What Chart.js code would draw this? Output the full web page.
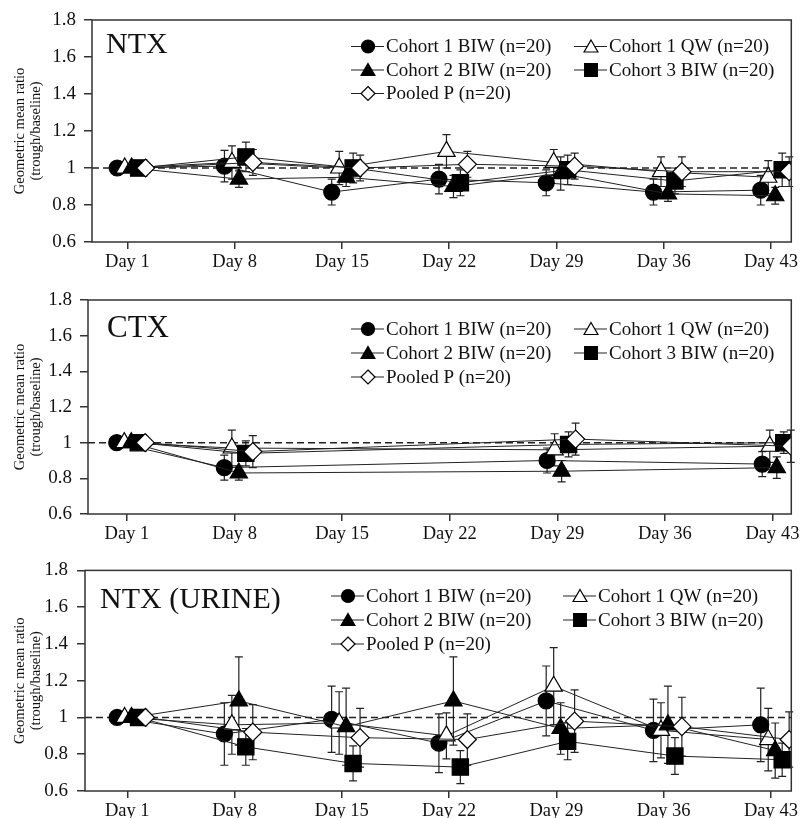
<!DOCTYPE html>
<html><head><meta charset="utf-8">
<script src="https://cdn.jsdelivr.net/npm/chart.js@4/dist/chart.umd.min.js"></script>
<style>
html,body{margin:0;padding:0;background:#fff;width:804px;height:818px;overflow:hidden;}
.p{position:absolute;left:0;width:804px;}
</style></head><body>
<div class="p" style="top:0;height:275px"><canvas id="c1"></canvas></div>
<div class="p" style="top:280px;height:270px"><canvas id="c2"></canvas></div>
<div class="p" style="top:550px;height:268px"><canvas id="c3"></canvas></div>
<script>
// ---------- data ----------
const days = ['Day 1','Day 8','Day 15','Day 22','Day 29','Day 36','Day 43'];
const seriesNames = ['Cohort 1 BIW (n=20)','Cohort 1 QW (n=20)','Cohort 2 BIW (n=20)','Cohort 3 BIW (n=20)','Pooled P (n=20)'];
const yTickValues = [0.6,0.8,1.0,1.2,1.4,1.6,1.8];
const yTickLabels = ['0.6','0.8','1','1.2','1.4','1.6','1.8'];
const panelTitles = ['NTX','CTX','NTX (URINE)'];
const yTitle = ['Geometric mean ratio','(trough/baseline)'];

// NTX (serum)
const ntxC1BIW    = [1.00, 1.01, 0.87, 0.94, 0.92, 0.87, 0.88];
const ntxC1BIWErr = [0, 0.085, 0.07, 0.08, 0.07, 0.07, 0.08];
const ntxC1QW     = [1.00, 1.03, 1.00, 1.09, 1.03, 0.98, 0.95];
const ntxC1QWErr  = [0, 0.09, 0.09, 0.09, 0.07, 0.08, 0.09];
const ntxC2BIW    = [1.00, 0.94, 0.95, 0.90, 0.97, 0.86, 0.85];
const ntxC2BIWErr = [0, 0.045, 0.05, 0.06, 0.09, 0.04, 0.045];
const ntxC3BIW    = [1.00, 1.06, 1.00, 0.92, 0.99, 0.93, 0.99];
const ntxC3BIWErr = [0, 0.08, 0.08, 0.07, 0.08, 0.07, 0.09];
const ntxPooled   = [1.00, 1.03, 1.00, 1.02, 1.01, 0.98, 0.98];
const ntxPooledErr= [0, 0.07, 0.07, 0.07, 0.07, 0.08, 0.08];

// CTX
const ctxC1BIW    = [1.00, 0.86, null, null, 0.90, null, 0.88];
const ctxC1BIWErr = [0, 0.07, null, null, 0.07, null, 0.07];
const ctxC1QW     = [1.00, 0.97, null, null, 0.96, null, 0.98];
const ctxC1QWErr  = [0, 0.10, null, null, 0.09, null, 0.09];
const ctxC2BIW    = [1.00, 0.83, null, null, 0.84, null, 0.86];
const ctxC2BIWErr = [0, 0.04, null, null, 0.06, null, 0.06];
const ctxC3BIW    = [1.00, 0.94, null, null, 0.99, null, 1.00];
const ctxC3BIWErr = [0, 0.07, null, null, 0.07, null, 0.06];
const ctxPooled   = [1.00, 0.95, null, null, 1.02, null, 0.98];
const ctxPooledErr= [0, 0.09, null, null, 0.09, null, 0.09];

// NTX (urine)
const urC1BIW     = [1.00, 0.91, 0.99, 0.86, 1.09, 0.93, 0.96];
const urC1BIWErr  = [0, 0.17, 0.18, 0.16, 0.19, 0.17, 0.20];
const urC1QW      = [1.00, 0.96, 0.97, 0.90, 1.17, 0.93, 0.88];
const urC1QWErr   = [0, 0.16, 0.17, 0.125, 0.21, 0.15, 0.17];
const urC2BIW     = [1.00, 1.09, 0.95, 1.09, 0.94, 0.96, 0.82];
const urC2BIWErr  = [0, 0.24, 0.21, 0.24, 0.14, 0.21, 0.15];
const urC3BIW     = [1.00, 0.84, 0.75, 0.73, 0.87, 0.79, 0.77];
const urC3BIWErr  = [0, 0.10, 0.095, 0.09, 0.10, 0.10, 0.09];
const urPooled    = [1.00, 0.92, 0.89, 0.88, 0.98, 0.95, 0.88];
const urPooledErr = [0, 0.15, 0.16, 0.14, 0.17, 0.16, 0.15];

// ---------- styles ----------
const FONT = "'Liberation Serif','Times New Roman',serif";
const INK = '#222';
const xOffsets = [-0.095, -0.025, 0.04, 0.105, 0.17];
const markers = [
  {type:'circle',  r:8,    fill:'#000', lr:6.5},
  {type:'triangle',r:10,   fill:'#fff', lr:8},
  {type:'triangle',r:10,   fill:'#000', lr:8},
  {type:'rect',    r:11.5, fill:'#000', lr:9},
  {type:'rectRot', r:9,    fill:'#fff', lr:7}
];

function drawMarker(ctx, type, x, y, r, fill){
  ctx.beginPath();
  if(type==='circle'){ ctx.arc(x,y,r,0,Math.PI*2); }
  else if(type==='triangle'){ ctx.moveTo(x,y-r); ctx.lineTo(x+r*0.866,y+r/2); ctx.lineTo(x-r*0.866,y+r/2); ctx.closePath(); }
  else if(type==='rect'){ const s=r*Math.SQRT1_2; ctx.rect(x-s,y-s,2*s,2*s); }
  else { ctx.moveTo(x,y-r); ctx.lineTo(x+r,y); ctx.lineTo(x,y+r); ctx.lineTo(x-r,y); ctx.closePath(); }
  ctx.fillStyle = fill; ctx.fill();
  ctx.strokeStyle = '#000'; ctx.lineWidth = 1.2; ctx.stroke();
}

function makePanel(id, cfg){
  const canvasH = cfg.height;
  const datasets = cfg.values.map((vals, i) => ({
    label: seriesNames[i],
    data: vals.map((v, j) => ({x: j + xOffsets[i], y: v})),
    borderColor: INK,
    borderWidth: 1,
    pointStyle: markers[i].type,
    pointRadius: markers[i].r,
    pointHoverRadius: markers[i].r,
    pointBackgroundColor: markers[i].fill,
    pointBorderColor: '#000',
    pointBorderWidth: 1.2,
    spanGaps: true,
    order: 4 - i,
    tension: 0
  }));

  const deco = {
    id: 'deco' + id,
    beforeDatasetsDraw(chart){
      const ctx = chart.ctx, a = chart.chartArea;
      const xs = chart.scales.x, ys = chart.scales.y;
      ctx.save();
      ctx.beginPath();
      ctx.setLineDash([7,4]);
      ctx.strokeStyle = INK; ctx.lineWidth = 1.5;
      const y1 = ys.getPixelForValue(1);
      ctx.moveTo(a.left, y1); ctx.lineTo(a.right, y1); ctx.stroke();
      ctx.setLineDash([]);
      ctx.strokeStyle = INK; ctx.lineWidth = 1.2;
      cfg.values.forEach((vals, i) => {
        vals.forEach((v, j) => {
          const e = cfg.errors[i][j];
          if(v === null || !e) return;
          const x = xs.getPixelForValue(j + xOffsets[i]);
          const yt = ys.getPixelForValue(v + e), yb = ys.getPixelForValue(v - e);
          ctx.beginPath();
          ctx.moveTo(x, yt); ctx.lineTo(x, yb);
          ctx.moveTo(x-4, yt); ctx.lineTo(x+4, yt);
          ctx.moveTo(x-4, yb); ctx.lineTo(x+4, yb);
          ctx.stroke();
        });
      });
      ctx.restore();
    },
    afterDraw(chart){
      const ctx = chart.ctx, a = chart.chartArea;
      ctx.save();
      ctx.strokeStyle = '#333'; ctx.lineWidth = 1.5;
      ctx.strokeRect(a.left, a.top, a.right - a.left, a.bottom - a.top);
      ctx.fillStyle = '#111';
      ctx.font = cfg.titleSize + 'px ' + FONT;
      ctx.textBaseline = 'alphabetic'; ctx.textAlign = 'left';
      ctx.fillText(cfg.title, cfg.titleX, cfg.titleY);
      ctx.font = '19px ' + FONT;
      ctx.textBaseline = 'middle';
      const slots = [[0,0],[1,0],[0,1],[1,1],[0,2]];
      slots.forEach(([col,row], i) => {
        const tx = cfg.legX[col], ty = cfg.legY[row];
        ctx.beginPath(); ctx.strokeStyle = INK; ctx.lineWidth = 1;
        ctx.moveTo(tx - 35, ty); ctx.lineTo(tx - 2, ty); ctx.stroke();
        const m = markers[i];
        drawMarker(ctx, m.type, tx - 18, ty + (m.type==='triangle' ? 1.5 : 0), m.lr, m.fill);
        ctx.fillStyle = '#111';
        ctx.fillText(seriesNames[i], tx, ty + 1);
      });
      ctx.restore();
    }
  };

  return new Chart(document.getElementById(id), {
    type: 'line',
    data: { datasets },
    plugins: [deco],
    options: {
      responsive: true,
      maintainAspectRatio: false,
      animation: false,
      events: [],
      layout: { padding: { top: cfg.top, right: 804 - cfg.right, left: 0, bottom: 0 } },
      plugins: { legend: { display: false }, tooltip: { enabled: false } },
      scales: {
        x: {
          type: 'linear',
          min: cfg.xMin, max: cfg.xMax,
          afterBuildTicks(s){ s.ticks = days.map((d, i) => ({value: i})); },
          afterFit(s){ s.height = canvasH - cfg.bottom; },
          ticks: {
            callback: (v) => days[v],
            font: { family: FONT, size: 18.5 },
            color: '#111',
            padding: 2,
            maxRotation: 0,
            autoSkip: false
          },
          grid: { drawOnChartArea: false, drawTicks: true, tickLength: 7, color: '#333', lineWidth: 1.5 },
          border: { display: false }
        },
        y: {
          type: 'linear',
          min: 0.6, max: 1.8,
          afterBuildTicks(s){ s.ticks = yTickValues.map(v => ({value: v})); },
          afterFit(s){ s.width = cfg.left; },
          ticks: {
            callback: (v) => yTickLabels[yTickValues.findIndex(t => Math.abs(t - v) < 1e-6)],
            font: { family: FONT, size: 19 },
            color: '#111',
            padding: cfg.yPad
          },
          grid: { drawOnChartArea: false, drawTicks: true, tickLength: 8, color: '#333', lineWidth: 1.5 },
          border: { display: false },
          title: {
            display: true,
            text: yTitle,
            font: { family: FONT, size: 14.5, lineHeight: 1.1 },
            color: '#111',
            padding: { top: 12, bottom: 0 }
          }
        }
      }
    }
  });
}

makePanel('c1', {
  height: 275, top: 20, bottom: 242, left: 92, right: 798, xMin: -0.33, xMax: 6.19, yPad: 8,
  title: panelTitles[0], titleSize: 30, titleX: 106, titleY: 53,
  legX: [386, 609], legY: [46.5, 70, 93.5],
  values: [ntxC1BIW, ntxC1QW, ntxC2BIW, ntxC3BIW, ntxPooled],
  errors: [ntxC1BIWErr, ntxC1QWErr, ntxC2BIWErr, ntxC3BIWErr, ntxPooledErr]
});
makePanel('c2', {
  height: 270, top: 20, bottom: 234, left: 88, right: 799, xMin: -0.362, xMax: 6.175, yPad: 8,
  title: panelTitles[1], titleSize: 31, titleX: 107, titleY: 57,
  legX: [386, 609], legY: [49, 73, 97],
  values: [ctxC1BIW, ctxC1QW, ctxC2BIW, ctxC3BIW, ctxPooled],
  errors: [ctxC1BIWErr, ctxC1QWErr, ctxC2BIWErr, ctxC3BIWErr, ctxPooledErr]
});
makePanel('c3', {
  height: 268, top: 20, bottom: 241, left: 85, right: 798, xMin: -0.394, xMax: 6.19, yPad: 9,
  title: panelTitles[2], titleSize: 30, titleX: 100, titleY: 58,
  legX: [366, 598], legY: [46, 70, 94],
  values: [urC1BIW, urC1QW, urC2BIW, urC3BIW, urPooled],
  errors: [urC1BIWErr, urC1QWErr, urC2BIWErr, urC3BIWErr, urPooledErr]
});
</script>
</body></html>
